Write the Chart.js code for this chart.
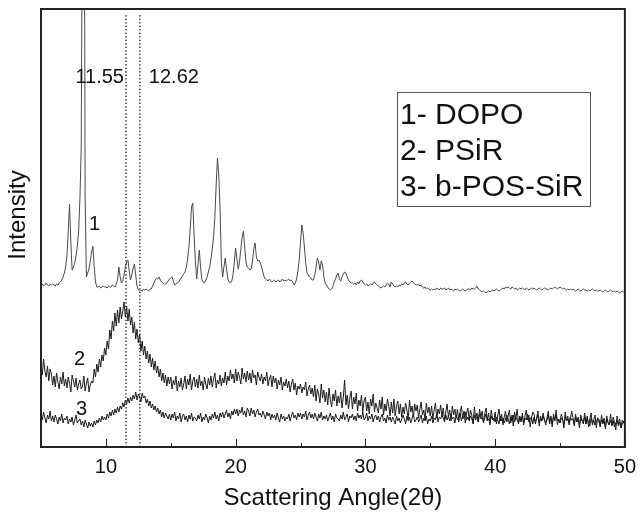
<!DOCTYPE html>
<html>
<head>
<meta charset="utf-8">
<script src="https://cdn.jsdelivr.net/npm/chart.js@4.4.1/dist/chart.umd.min.js"></script>
<style>
  html, body { margin: 0; padding: 0; background: #fff; }
  #xrdChart { display: block; }
</style>
</head>
<body>
<canvas id="xrdChart" width="644" height="518"></canvas>
<script>
// XRD patterns, sampled every 0.1 deg of 2-theta from 5 to 50
const angleStart = 5;
const angleStep = 0.1;
const angleTicks = [10, 20, 30, 40, 50];
const minorTicks = [15, 25, 35, 45];
const markerAngles = [11.55, 12.62];
const markerLabels = ['11.55', '12.62'];
const seriesNames = ['1- DOPO', '2- PSiR', '3- b-POS-SiR'];

const dopo = [
  162,163,161,162,164,162,161,163,162,163,
  162,161,163,162,164,165,167,170,174,180,
  192,215,243,205,177,180,184,191,201,216,
  248,300,600,820,250,170,174,178,186,195,
  201,180,165,160,160,161,159,160,161,160,
  160,159,161,160,160,162,161,160,163,167,
  180,170,164,166,172,180,185,187,176,167,
  172,179,183,172,161,157,156,157,156,158,
  157,158,157,156,158,158,161,164,167,169,
  168,170,167,165,164,163,163,164,166,168,
  169,170,166,162,163,164,165,167,169,171,
  173,175,180,188,200,218,240,244,212,185,
  168,182,197,180,167,165,164,167,170,175,
  180,188,198,210,230,262,289,272,238,185,
  170,180,189,178,168,165,164,166,172,185,
  199,188,178,185,198,210,216,200,185,180,
  179,177,178,186,198,204,190,186,187,184,
  180,175,170,168,167,166,168,166,165,166,
  167,165,166,167,165,166,168,166,167,166,
  167,168,166,167,165,162,164,168,176,187,
  205,222,214,200,184,174,172,170,169,167,
  167,172,180,189,185,177,186,182,170,164,
  162,160,158,157,158,161,165,168,172,174,
  168,166,170,173,175,174,170,167,165,164,
  164,163,164,162,165,163,166,167,165,163,
  162,163,161,162,163,162,164,165,163,162,
  161,160,159,160,161,160,162,164,163,160,
  165,163,161,160,161,160,162,161,163,162,
  164,165,163,162,164,165,166,164,163,162,
  162,163,161,162,160,159,160,158,159,158,
  157,158,157,158,157,159,158,157,159,158,
  158,159,157,158,159,157,158,157,156,158,
  157,158,157,156,157,158,157,156,157,158,
  158,157,159,158,158,159,161,158,157,156,
  155,156,155,154,155,156,155,156,157,156,
  157,158,157,156,157,158,159,158,160,159,
  160,159,158,160,159,158,159,157,158,159,
  158,159,158,157,159,158,157,158,159,158,
  159,158,157,158,159,158,157,158,159,158,
  158,157,158,159,158,159,160,159,158,159,
  160,159,158,159,158,157,158,157,158,157,
  158,157,156,157,158,157,156,157,158,157,
  157,156,157,156,157,158,157,156,157,156,
  156,157,156,155,156,157,156,155,156,157,
  156,155,156,155,156,155,154,155,156,155,
  155
];

const psir = [
  84,72,88,76,70,81,66,78,73,62,
  71,60,74,65,58,70,63,75,61,68,
  59,70,64,55,72,66,60,69,57,63,
  67,58,61,71,56,64,69,55,62,66,
  64,78,70,83,75,88,80,92,86,99,
  92,106,98,117,108,126,116,134,121,137,
  124,140,128,136,145,130,141,126,138,122,
  130,114,125,108,118,104,113,96,106,92,
  101,88,96,84,93,80,89,77,86,74,
  81,70,78,66,74,64,72,61,70,63,
  70,58,67,62,71,56,66,60,69,57,
  63,71,58,68,62,73,57,66,70,60,
  68,59,72,61,66,57,70,63,58,69,
  62,71,60,68,74,59,67,63,72,61,
  69,64,75,62,71,66,77,68,73,64,
  78,66,75,70,63,79,68,74,65,76,
  67,74,64,77,69,72,62,75,70,66,
  73,63,70,66,75,61,68,72,60,71,
  64,69,58,67,62,70,57,65,61,68,
  59,66,55,63,68,57,64,52,61,58,
  63,54,60,57,65,51,58,62,53,59,
  50,62,46,58,53,44,63,49,57,45,
  55,42,59,47,40,53,46,57,41,51,
  44,55,39,50,67,42,52,38,49,56,
  38,50,43,54,36,47,41,52,35,46,
  50,36,45,33,48,41,53,35,44,39,
  34,47,38,50,32,43,36,48,41,31,
  45,34,48,31,41,46,33,43,30,40,
  33,44,37,28,47,35,41,30,43,36,
  42,29,38,45,32,37,27,44,34,40,
  31,41,28,37,44,29,38,33,42,30,
  39,27,35,43,30,37,26,41,32,38,
  29,38,25,35,41,28,36,24,34,39,
  27,37,32,23,40,29,34,25,38,30,
  36,24,33,39,27,34,22,37,29,26,
  35,23,31,38,26,33,22,30,36,25,
  31,37,24,32,21,35,28,38,23,30,
  25,34,22,31,37,27,32,20,29,35,
  33,23,29,36,21,31,26,34,27,22,
  29,36,23,31,20,33,26,37,22,28,
  24,33,28,19,35,26,31,22,29,36,
  29,21,33,25,30,19,32,27,23,34,
  23,31,20,28,34,22,27,32,19,29,
  28,20,32,24,29,18,31,25,22,33,
  21,30,25,17,31,23,28,19,27,24,
  25
];

const bPosSir = [
  33,27,35,29,24,32,28,36,26,31,
  25,32,28,23,30,26,33,24,29,27,
  31,23,28,25,30,22,27,32,24,26,
  28,22,26,20,27,23,19,25,21,24,
  20,26,22,27,24,29,25,31,27,30,
  27,33,29,35,31,37,32,38,34,40,
  35,41,38,44,40,47,43,49,44,50,
  46,52,48,55,47,53,50,45,54,49,
  51,44,48,41,46,39,43,37,41,35,
  39,33,37,30,35,29,34,31,28,33,
  27,33,29,35,26,31,28,34,25,31,
  33,27,31,25,32,28,34,26,30,29,
  26,32,28,34,25,30,27,33,29,24,
  31,27,33,29,35,28,32,26,34,30,
  35,29,33,37,30,34,28,36,32,38,
  33,38,31,37,34,40,32,36,30,39,
  36,31,39,33,37,30,35,38,32,34,
  30,36,32,28,35,31,34,27,33,29,
  32,27,34,29,25,33,28,31,26,30,
  28,33,26,31,35,29,32,27,34,30,
  34,28,33,30,36,27,32,35,29,33,
  28,34,30,26,33,29,35,27,31,28,
  32,26,30,34,27,31,25,33,29,28,
  26,32,28,35,27,30,33,25,31,29,
  33,27,31,26,34,29,32,28,35,27,
  29,34,26,31,28,33,25,30,32,27,
  31,25,30,33,26,29,24,32,27,30,
  25,30,27,23,31,26,29,24,28,32,
  28,23,31,26,30,24,29,33,25,27,
  30,25,28,32,24,29,26,31,23,28,
  26,31,24,29,27,33,25,30,28,32,
  29,25,32,27,31,26,33,28,30,24,
  32,27,30,34,26,31,29,35,27,30,
  26,31,28,24,32,27,30,25,33,28,
  30,25,29,33,26,28,24,31,27,29,
  25,30,27,23,31,26,29,24,28,32,
  28,23,30,26,32,25,29,27,24,31,
  26,31,24,29,27,33,25,28,30,23,
  30,25,28,32,24,29,26,31,27,25,
  27,32,25,29,23,30,27,33,26,28,
  24,29,27,22,31,26,28,24,30,27,
  28,23,30,25,27,22,29,26,24,30,
  23,28,25,21,29,24,27,22,26,28,
  25,21,27,23,26,20,28,24,22,27,
  22,26,20,24,27,21,25,19,23,26,
  22
];

const FONT = "'Liberation Sans', Arial, Helvetica, sans-serif";
const markerTop = 432; // dotted reference lines stop just under the frame

const toPoints = values => values.map((v, i) => ({
  x: +(angleStart + i * angleStep).toFixed(2),
  y: v
}));

const traceStyle = (color) => ({
  borderColor: color,
  borderWidth: 1,
  pointRadius: 0,
  tension: 0,
  fill: false
});

const datasets = [
  { data: toPoints(dopo), ...traceStyle('#4a4a4a') },
  { data: toPoints(psir), ...traceStyle('#1c1c1c') },
  { data: toPoints(bPosSir), ...traceStyle('#1c1c1c') }
];

markerAngles.forEach(a => {
  datasets.push({
    data: [{ x: a, y: 0 }, { x: a, y: markerTop }],
    borderColor: '#000',
    borderWidth: 1.3,
    borderDash: [1.3, 2.2],
    pointRadius: 0,
    fill: false
  });
});

// frame, inward tick marks and all the free-standing text
const decorations = {
  id: 'decorations',
  afterDraw(chart) {
    const ctx = chart.ctx;
    const { left, right, top, bottom } = chart.chartArea;
    const xs = chart.scales.x;
    ctx.save();

    ctx.strokeStyle = '#222';
    ctx.lineWidth = 1;
    ctx.beginPath();
    angleTicks.forEach(v => {
      const px = Math.round(xs.getPixelForValue(v)) + 0.5;
      ctx.moveTo(px, bottom);
      ctx.lineTo(px, bottom - 8);
    });
    minorTicks.forEach(v => {
      const px = Math.round(xs.getPixelForValue(v)) + 0.5;
      ctx.moveTo(px, bottom);
      ctx.lineTo(px, bottom - 4);
    });
    ctx.stroke();

    ctx.lineWidth = 2;
    ctx.strokeRect(left, top, right - left, bottom - top);

    ctx.fillStyle = '#111';
    ctx.textBaseline = 'alphabetic';
    ctx.font = '20px ' + FONT;
    ctx.textAlign = 'right';
    ctx.fillText(markerLabels[0], xs.getPixelForValue(markerAngles[0]) - 2, 83);
    ctx.textAlign = 'left';
    ctx.fillText(markerLabels[1], xs.getPixelForValue(markerAngles[1]) + 9, 83);

    ctx.fillText('1', 89, 230);
    ctx.fillText('2', 74, 365);
    ctx.fillText('3', 76, 415);

    // y axis caption, rotated
    ctx.save();
    ctx.translate(18, 215);
    ctx.rotate(-Math.PI / 2);
    ctx.textAlign = 'center';
    ctx.textBaseline = 'middle';
    ctx.font = '24px ' + FONT;
    ctx.fillText('Intensity', 0, 0);
    ctx.restore();

    // legend box
    ctx.strokeStyle = '#555';
    ctx.lineWidth = 1;
    ctx.strokeRect(397.5, 92.5, 193, 114);
    ctx.font = '30px ' + FONT;
    ctx.fillStyle = '#111';
    ctx.textAlign = 'left';
    seriesNames.forEach((name, i) => {
      ctx.fillText(name, 400, 124 + i * 36);
    });

    ctx.restore();
  }
};

new Chart(document.getElementById('xrdChart'), {
  type: 'line',
  data: { datasets },
  options: {
    responsive: false,
    animation: false,
    events: [],
    layout: { padding: { top: 9, right: 13, left: 0, bottom: 0 } },
    plugins: { legend: { display: false }, tooltip: { enabled: false } },
    scales: {
      x: {
        type: 'linear',
        min: 5,
        max: 50,
        grid: { display: false, drawTicks: false },
        border: { display: false },
        afterBuildTicks: scale => { scale.ticks = angleTicks.map(v => ({ value: v })); },
        afterFit: scale => { scale.height = 71; },
        ticks: {
          color: '#111',
          padding: 8,
          maxRotation: 0,
          font: { family: FONT, size: 20 }
        },
        title: {
          display: true,
          text: 'Scattering Angle(2θ)',
          color: '#111',
          padding: { top: 0, bottom: 5 },
          font: { family: FONT, size: 24 }
        }
      },
      y: {
        min: 0,
        max: 438,
        grid: { display: false, drawTicks: false },
        border: { display: false },
        ticks: { display: false },
        afterFit: scale => { scale.width = 41; },
        title: { display: false }
      }
    }
  },
  plugins: [decorations]
});
</script>
</body>
</html>
